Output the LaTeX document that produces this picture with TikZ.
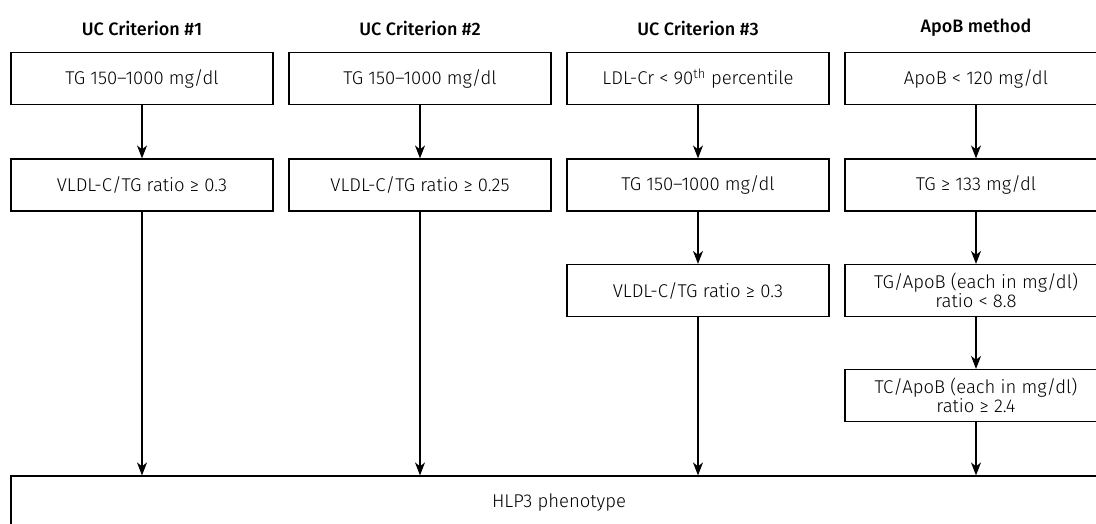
\documentclass[tikz,border=0pt]{standalone}
\usepackage{fontspec}
\setmainfont{Fira Sans}[UprightFont={* Light}, BoldFont={* Medium}]
\usetikzlibrary{arrows.meta}
\begin{document}
\begin{tikzpicture}[x=1pt,y=-1pt,
  crit/.style={draw=black, line width=1.2pt, minimum width=262pt, minimum height=52pt, align=center, inner sep=0pt, font=\fontsize{18.5}{19.5}\selectfont},
  ttl/.style={font=\fontsize{18}{19}\selectfont\bfseries},
  conn/.style={line width=1.2pt, -{Stealth[length=13pt,width=10pt,inset=4pt]}}
]
\useasboundingbox (0,0) rectangle (1096,523);
\begin{scope}
\clip (0,0) rectangle (1096,523);
% titles
\node[ttl] (t1) at (142,28) {UC Criterion \#1};
\node[ttl] (t2) at (420,28) {UC Criterion \#2};
\node[ttl] (t3) at (698,28) {UC Criterion \#3};
\node[ttl] (t4) at (976,28) {ApoB method};
% row 1
\node[crit] (a1) at (142,78.5) {TG 150–1000 mg/dl};
\node[crit] (b1) at (420,78.5) {TG 150–1000 mg/dl};
\node[crit] (c1) at (698,78.5) {LDL-Cr < 90\textsuperscript{th} percentile};
\node[crit] (d1) at (976,78.5) {ApoB < 120 mg/dl};
% row 2
\node[crit] (a2) at (142,185) {VLDL-C/TG ratio ≥ 0.3};
\node[crit] (b2) at (420,185) {VLDL-C/TG ratio ≥ 0.25};
\node[crit] (c2) at (698,185) {TG 150–1000 mg/dl};
\node[crit] (d2) at (976,185) {TG ≥ 133 mg/dl};
% row 3
\node[crit] (c3) at (698,290.5) {VLDL-C/TG ratio ≥ 0.3};
\node[crit] (d3) at (976,290.5) {TG/ApoB (each in mg/dl)\\ratio < 8.8};
% row 4
\node[crit] (d4) at (976,395.5) {TC/ApoB (each in mg/dl)\\ratio ≥ 2.4};
% bottom
\node[draw=black, line width=1.2pt, minimum width=1096pt, minimum height=54pt, inner sep=0pt, font=\fontsize{18.5}{19.5}\selectfont] (h) at (559,503) {HLP3 phenotype};
% connectors
\draw[conn] (a1) -- (a2);
\draw[conn] (b1) -- (b2);
\draw[conn] (c1) -- (c2);
\draw[conn] (c2) -- (c3);
\draw[conn] (d1) -- (d2);
\draw[conn] (d2) -- (d3);
\draw[conn] (d3) -- (d4);
\draw[conn] (a2) -- (a2 |- h.north);
\draw[conn] (b2) -- (b2 |- h.north);
\draw[conn] (c3) -- (c3 |- h.north);
\draw[conn] (d4) -- (d4 |- h.north);
\end{scope}
\end{tikzpicture}
\end{document}
